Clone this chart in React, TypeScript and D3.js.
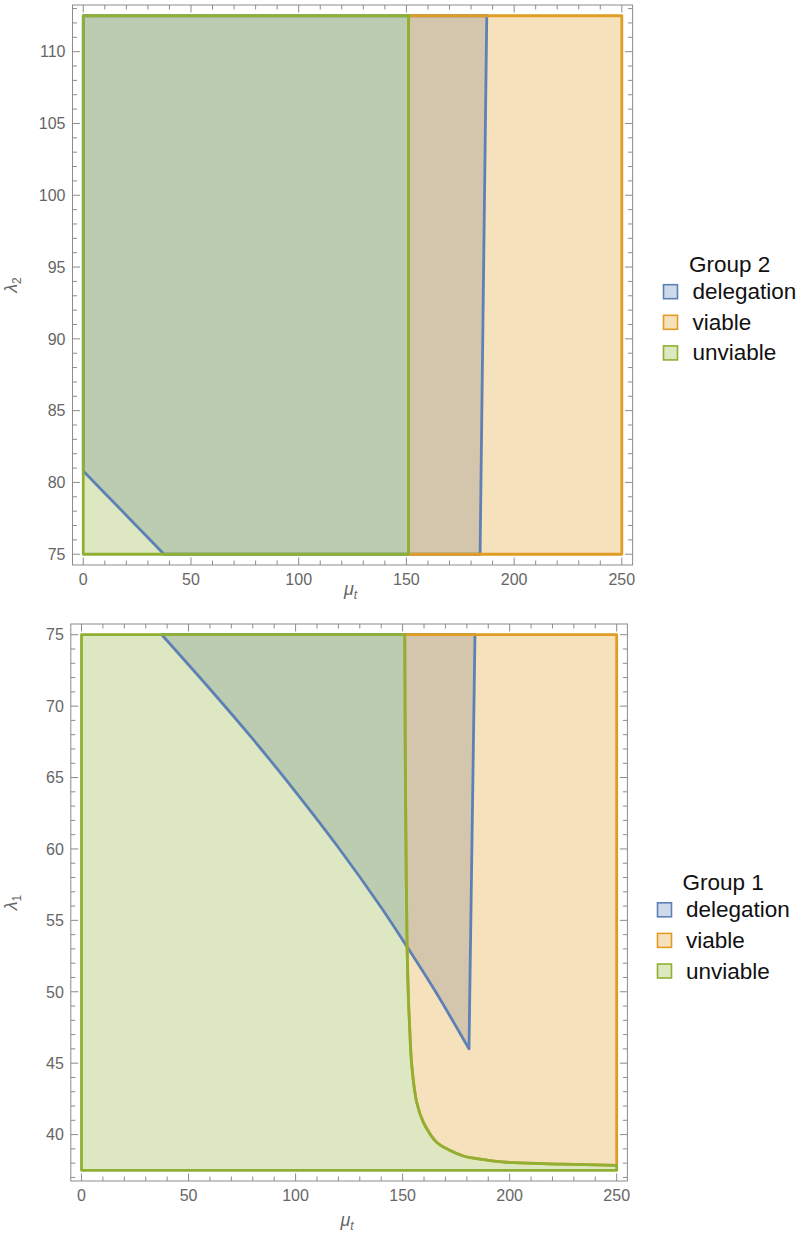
import React from "react";
import * as d3 from "d3";

// ---------- data ----------
// Group 2 (top panel): x = mu_t, y = lambda_2
const g2Domain = { x: [0, 250], y: [75, 112.5] };
const g2UnviableMaxX = 151; // unviable: mu_t < 151
const g2DelegationLeft: [number, number][] = [[0, 80.8], [37.5, 75]];
const g2DelegationRight: [number, number][] = [[184.2, 75], [187.3, 112.5]];

// Group 1 (bottom panel): x = mu_t, y = lambda_1
const g1Domain = { x: [0, 250], y: [37.5, 75] };
const g1DelegationCurve: [number, number][] = [
  [37.5, 75], [60, 71.2], [80, 67.7], [100, 64], [120, 60.1], [140, 55.9],
  [151, 53.4], [165, 50.1], [181, 46],
];
const g1DelegationRightTop: [number, number] = [183.8, 75];
const g1UnviableCurve: [number, number][] = [
  [151, 75], [151.3, 65], [151.7, 58], [152.1, 53], [152.6, 50], [153.2, 47.8],
  [154.3, 44.8], [156.6, 42.25], [159.7, 40.85], [163, 40], [166, 39.45], [172, 38.9],
  [178.4, 38.5], [190, 38.2], [201.8, 38.03], [225, 37.93], [250, 37.85],
];

const xMajor = [0, 50, 100, 150, 200, 250];
const g2YMajor = [75, 80, 85, 90, 95, 100, 105, 110];
const g1YMajor = [40, 45, 50, 55, 60, 65, 70, 75];
const legendItems = ["delegation", "viable", "unviable"];

const COLORS = { delegation: "#5E81B5", viable: "#E19C24", unviable: "#8FB032" };
const FILL_OP = 0.3;
const AXIS_GRAY = "#8c8c8c";
const TEXT_GRAY = "#666666";
const FONT = "'Liberation Sans', Arial, Helvetica, sans-serif";

type Pt = [number, number];
type Seg = { pts: Pt[]; curved?: boolean };

function Frame({ x, y, xMinor, yMinor }: any) {
  const [x0, x1] = x.range();
  const [y0, y1] = y.range();
  const maj = 7.5, min = 4.5;
  const els: any[] = [];
  xMinor.forEach((v: number, i: number) => {
    const L = xMajor.includes(v) ? maj : min;
    const px = x(v);
    els.push(<line key={"xb" + i} x1={px} x2={px} y1={y0} y2={y0 - L} />);
    els.push(<line key={"xt" + i} x1={px} x2={px} y1={y1} y2={y1 + L} />);
  });
  yMinor.forEach((v: any, i: number) => {
    const L = v.major ? maj : min;
    const py = y(v.v);
    els.push(<line key={"yl" + i} x1={x0} x2={x0 + L} y1={py} y2={py} />);
    els.push(<line key={"yr" + i} x1={x1} x2={x1 - L} y1={py} y2={py} />);
  });
  return (
    <g stroke={AXIS_GRAY} strokeWidth={1} fill="none">
      <rect x={x0} y={y1} width={x1 - x0} height={y0 - y1} />
      {els}
    </g>
  );
}

function Panel({ x, y, yMajor, regions, yLabelSub, legendTitle, legend, xLabelY }: any) {
  const lin = d3.line<Pt>().x((d) => x(d[0])).y((d) => y(d[1]));
  const crv = d3.line<Pt>().x((d) => x(d[0])).y((d) => y(d[1])).curve(d3.curveCatmullRom.alpha(0.5));
  const pathOf = (segs: Seg[]) =>
    segs
      .map((s, i) => {
        const p = (s.curved ? crv : lin)(s.pts) || "";
        return i === 0 ? p : "L" + p.slice(1);
      })
      .join("") + "Z";
  const [yLo, yHi] = y.domain();
  const xMinor = d3.range(0, 251, 10);
  const yMinor = d3.range(Math.ceil(yLo), Math.floor(yHi) + 1, 1).map((v: number) => ({ v, major: yMajor.includes(v) }));
  const [x0] = x.range();
  const [yb, yt] = y.range();
  const xMid = (x.range()[0] + x.range()[1]) / 2;
  const yMid = (yb + yt) / 2;
  const paths = regions.map((r: any) => pathOf(r.segs));
  return (
    <g>
      {regions.map((r: any, i: number) => (
        <path key={"f" + i} d={paths[i]} fill={r.color} fillOpacity={FILL_OP} stroke="none" />
      ))}
      {regions.map((r: any, i: number) => (
        <path key={"s" + i} d={paths[i]} fill="none" stroke={r.color} strokeWidth={2.8} strokeLinejoin="round" />
      ))}
      <Frame x={x} y={y} xMinor={xMinor} yMinor={yMinor} />
      <g fill={TEXT_GRAY} fontFamily={FONT} fontSize={16}>
        {xMajor.map((v) => (
          <text key={"xl" + v} x={x(v)} y={yb + 20} textAnchor="middle">{v}</text>
        ))}
        {yMajor.map((v: number) => (
          <text key={"yl" + v} x={x0 - 7} y={y(v)} dy="0.36em" textAnchor="end">{v}</text>
        ))}
        <text x={xMid - 2} y={xLabelY} textAnchor="middle" fontSize={18} fontStyle="italic">
          μ<tspan fontSize={12} dy={4}>t</tspan>
        </text>
        <text transform={`translate(17,${yMid}) rotate(-90)`} textAnchor="middle" fontSize={18} fontStyle="italic">
          λ<tspan fontSize={12} dy={4} fontStyle="normal">{yLabelSub}</tspan>
        </text>
      </g>
      <g fontFamily={FONT} fontSize={22.5} fill="#111">
        <text x={legend.titleX} y={legend.titleY}>{legendTitle}</text>
        {legendItems.map((k, i) => {
          const cy = legend.rowY + i * legend.step;
          const c = (COLORS as any)[k];
          return (
            <g key={k}>
              <rect x={legend.swX} y={cy - 7} width={14} height={14} fill={c} fillOpacity={FILL_OP}
                stroke={c} strokeWidth={1.6} />
              <text x={legend.textX} y={cy + 7.5}>{k}</text>
            </g>
          );
        })}
      </g>
    </g>
  );
}

export default function App() {
  const pad = (d: number[], f = 0.02) => [d[0] - (d[1] - d[0]) * f, d[1] + (d[1] - d[0]) * f];
  const x2 = d3.scaleLinear().domain(pad(g2Domain.x)).range([72.5, 632.6]);
  const y2 = d3.scaleLinear().domain(pad(g2Domain.y)).range([565, 5]);
  const x1 = d3.scaleLinear().domain(pad(g1Domain.x)).range([70.8, 627.4]);
  const y1 = d3.scaleLinear().domain(pad(g1Domain.y)).range([1181, 624]);

  const [xa, xb] = g2Domain.x;
  const [ya, yb] = g2Domain.y;
  const g2Regions = [
    { color: COLORS.delegation, segs: [{ pts: [...g2DelegationLeft, ...g2DelegationRight, [xa, yb]] as Pt[] }] },
    { color: COLORS.viable, segs: [{ pts: [[g2UnviableMaxX, ya], [xb, ya], [xb, yb], [g2UnviableMaxX, yb]] as Pt[] }] },
    { color: COLORS.unviable, segs: [{ pts: [[xa, ya], [g2UnviableMaxX, ya], [g2UnviableMaxX, yb], [xa, yb]] as Pt[] }] },
  ];

  const [ua, ub] = g1Domain.y;
  const last = g1UnviableCurve[g1UnviableCurve.length - 1];
  const g1Regions = [
    {
      color: COLORS.delegation,
      segs: [{ pts: g1DelegationCurve, curved: true }, { pts: [g1DelegationCurve[g1DelegationCurve.length - 1], g1DelegationRightTop] }],
    },
    {
      color: COLORS.viable,
      segs: [{ pts: g1UnviableCurve, curved: true }, { pts: [last, [xb, ub]] as Pt[] }],
    },
    {
      color: COLORS.unviable,
      segs: [
        { pts: [[xa, ua], [xa, ub], g1UnviableCurve[0]] as Pt[] },
        { pts: g1UnviableCurve, curved: true },
        { pts: [last, [last[0], ua]] as Pt[] },
      ],
    },
  ];

  return (
    <svg width={801} height={1239} style={{ position: "absolute", left: 0, top: 0, background: "#fff" }}>
      <Panel x={x2} y={y2} yMajor={g2YMajor} regions={g2Regions} yLabelSub="2" legendTitle="Group 2" xLabelY={595}
        legend={{ titleX: 689, titleY: 271.5, swX: 663.5, textX: 692.5, rowY: 291.7, step: 30.6 }} />
      <Panel x={x1} y={y1} yMajor={g1YMajor} regions={g1Regions} yLabelSub="1" legendTitle="Group 1" xLabelY={1226}
        legend={{ titleX: 682.5, titleY: 890, swX: 657.5, textX: 686, rowY: 909.8, step: 30.6 }} />
    </svg>
  );
}
